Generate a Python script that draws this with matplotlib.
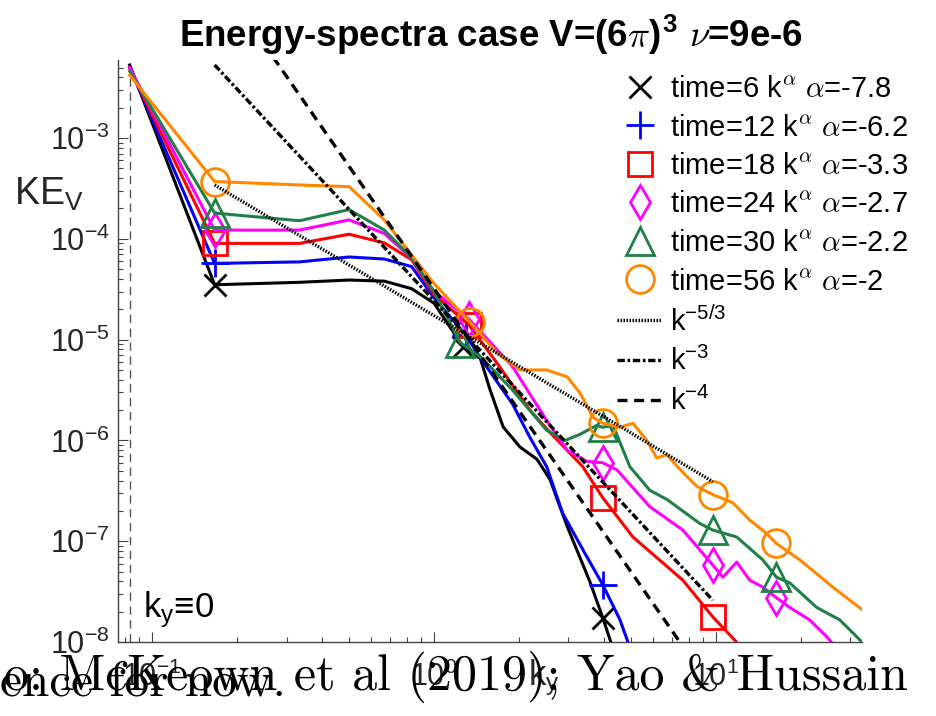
import matplotlib
matplotlib.use('Agg')
import matplotlib.pyplot as plt
from matplotlib.lines import Line2D

plt.rcParams['font.family'] = ['Liberation Sans', 'DejaVu Sans']
plt.rcParams['mathtext.fontset'] = 'cm'

# wavenumber / energy values
k_t6 = [0.0833, 0.1667, 0.3333, 0.5, 0.6667, 0.8333, 1.0, 1.27, 1.46, 1.58, 1.76, 2.02, 2.32, 2.58, 2.97, 3.57, 3.97, 4.3]
ke_t6 = [5.3e-3, 3.5e-5, 3.7e-5, 3.9e-5, 3.8e-5, 3.2e-5, 2.3e-5, 8.5e-6, 6.5e-6, 3.2e-6, 1.36e-6, 8.6e-7,
         6.5e-7, 4.1e-7, 1.4e-7, 4.0e-8, 1.74e-8, 8.9e-9]

k_t12 = [0.0833, 0.1667, 0.3333, 0.5, 0.6667, 0.8333, 1.0, 1.30, 1.46, 1.9, 2.19, 2.51, 2.86, 3.43, 3.97, 4.57, 4.95]
ke_t12 = [5.0e-3, 5.7e-5, 5.9e-5, 6.6e-5, 6.3e-5, 5.3e-5, 2.6e-5, 1.1e-5, 6.6e-6, 2.3e-6, 1.07e-6, 5.5e-7,
          1.9e-7, 7.6e-8, 3.7e-8, 1.66e-8, 8.9e-9]

k_t18 = [0.0833, 0.1667, 0.3333, 0.5, 0.6667, 0.8333, 1.0, 1.33, 1.67, 2.19, 2.58, 3.37, 3.97, 5.08, 7.64, 9.75, 12.5]
ke_t18 = [4.9e-3, 9.0e-5, 9.0e-5, 1.11e-4, 9.1e-5, 6.2e-5, 2.8e-5, 1.4e-5, 5.9e-6, 2.0e-6, 1.2e-6, 5.5e-7,
          2.7e-7, 1.1e-7, 4.1e-8, 1.78e-8, 8.5e-9]

k_t24 = [0.0833, 0.1667, 0.3333, 0.5, 0.6667, 0.8333, 1.0, 1.33, 1.9, 2.51, 2.97, 3.49, 3.97, 4.46, 5.83, 7.64,
         9.75, 10.6, 11.86, 13.2, 14.7, 16.4, 18.3, 21.5, 24.8, 27.0]
ke_t24 = [5.0e-3, 1.22e-4, 1.22e-4, 1.54e-4, 1.13e-4, 6.4e-5, 3.0e-5, 1.6e-5, 5.4e-6, 1.58e-6, 8.0e-7, 6.2e-7,
          6.0e-7, 5.1e-7, 2.2e-7, 1.29e-7, 5.8e-8, 4.4e-8, 6.2e-8, 4.1e-8, 3.5e-8, 2.75e-8, 2.2e-8, 1.66e-8,
          1.12e-8, 8.5e-9]

k_t30 = [0.0833, 0.1667, 0.3333, 0.5, 0.6667, 0.8333, 1.0, 1.24, 1.46, 1.9, 2.51, 2.92, 3.3, 3.78, 3.97, 4.32,
         4.95, 5.83, 6.70, 8.77, 9.75, 11.86, 14.7, 16.4, 18.3, 22.8, 27.5, 33.0]
ke_t30 = [4.6e-3, 1.8e-4, 1.51e-4, 1.95e-4, 1.22e-4, 6.5e-5, 3.0e-5, 9.3e-6, 6.8e-6, 3.16e-6, 1.26e-6, 1.0e-6,
          1.15e-6, 1.41e-6, 1.35e-6, 1.41e-6, 5.5e-7, 3.2e-7, 2.6e-7, 1.5e-7, 1.29e-7, 1.1e-7, 6.5e-8, 4.4e-8,
          3.85e-8, 2.2e-8, 1.66e-8, 1.0e-8]

k_t56 = [0.0833, 0.1667, 0.3333, 0.5, 0.6667, 0.8333, 1.0, 1.34, 1.67, 2.02, 2.51, 2.97, 3.30, 3.66, 3.97, 4.57,
         5.08, 5.69, 6.17, 6.70, 7.64, 8.57, 9.75, 11.5, 13.2, 15.1, 16.4, 19.9, 26.0, 33.0]
ke_t56 = [4.2e-3, 3.7e-4, 3.42e-4, 3.29e-4, 1.54e-4, 6.9e-5, 3.6e-5, 1.5e-5, 7.4e-6, 5.0e-6, 5.0e-6, 4.27e-6,
          2.95e-6, 1.7e-6, 1.48e-6, 1.35e-6, 1.48e-6, 1.0e-6, 6.7e-7, 7.2e-7, 4.8e-7, 3.5e-7, 2.9e-7, 2.4e-7,
          1.62e-7, 1.2e-7, 9.5e-8, 6.5e-8, 3.5e-8, 2.1e-8]

times = [6, 12, 18, 24, 30, 56]
alphas = ['-7.8', '-6.2', '-3.3', '-2.7', '-2.2', '-2']

# reference slopes (end points)
k_ref53 = [0.1667, 9.75]
ke_ref53 = [3.42e-4, 3.9e-7]
k_ref3 = [0.1667, 9.75]
ke_ref3 = [5.3e-3, 2.6e-8]
k_ref4 = [0.2685, 7.45]
ke_ref4 = [6.37e-3, 1.0e-8]

series = [
    (k_t6, ke_t6, 'black', 'x', 16, [1, 7, 16]),
    (k_t12, ke_t12, '#0000ff', '+', 20, [1, 7, 14]),
    (k_t18, ke_t18, '#ff0000', 's', 17, [1, 7, 12, 15]),
    (k_t24, ke_t24, '#ff00ff', 'd', 17, [1, 7, 12, 16, 21]),
    (k_t30, ke_t30, '#1f8048', '^', 20, [1, 7, 14, 20, 23]),
    (k_t56, ke_t56, '#ff8800', 'o', 20, [1, 7, 14, 22, 26]),
]

fig = plt.figure(figsize=(9.36, 7.16), dpi=100)
ax = fig.add_axes([118 / 936, 1 - 642 / 716, (862 - 118) / 936, (642 - 60) / 716])
ax.set_xscale('log')
ax.set_yscale('log')
ax.set_xlim(0.0757, 33.0)
ax.set_ylim(1e-8, 5.94e-3)

ax.axvline(k_t6[0], color='#555555', lw=1.0, ls=(0, (6, 4)))

handles = []
labels = []
for (k, ke, col, mk, ms, idx), t, a in zip(series, times, alphas):
    ax.plot(k, ke, color=col, lw=2.2, marker=mk, ms=ms, mew=2.0, mfc='none', markevery=idx)
    handles.append(Line2D([], [], ls='none', marker=mk, ms=ms, mew=2.0, mfc='none', color=col))
    labels.append('time=%d k$^{\\alpha}$ $\\alpha$=%s' % (t, a))

l53, = ax.plot(k_ref53, ke_ref53, color='black', lw=2.4, dashes=(0.45, 0.45))
l3, = ax.plot(k_ref3, ke_ref3, color='black', lw=2.4, dashes=(2.2, 0.8, 0.8, 0.8))
l4, = ax.plot(k_ref4, ke_ref4, color='black', lw=2.4, dashes=(3.0, 2.0))
handles += [l53, l3, l4]
labels += ['$\\mathdefault{k^{-5/3}}$', '$\\mathdefault{k^{-3}}$', '$\\mathdefault{k^{-4}}$']

ax.legend(handles, labels, loc='upper left', bbox_to_anchor=(617 / 936, 1 - 75 / 716),
          bbox_transform=fig.transFigure, frameon=False, fontsize=21, handlelength=1.55,
          handletextpad=0.27, labelspacing=0.36, borderpad=0, borderaxespad=0)

for s in ['top', 'right']:
    ax.spines[s].set_visible(False)
for s in ['left', 'bottom']:
    ax.spines[s].set_color('#444444')
    ax.spines[s].set_linewidth(1.0)
ax.tick_params(which='both', direction='in', colors='#444444', labelcolor='#262626', labelsize=22)
ax.tick_params(axis='y', which='both', pad=6)
ax.tick_params(axis='x', which='both', pad=14)
ax.tick_params(which='major', length=7, width=0.8)
ax.tick_params(which='minor', length=3.5, width=0.8)

fig.text(491 / 936, 1 - 35 / 716, 'Energy-spectra case V=(6$\\pi$)$^{\\mathdefault{3}}$ $\\nu$=9e-6',
         ha='center', va='center', fontsize=26.5, fontweight='bold')
fig.text(14 / 936, 1 - 205 / 716, '$\\mathdefault{KE_V}$', fontsize=27, color='#262626', va='baseline')
fig.text(528 / 936, 1 - 685 / 716, '$\\mathdefault{k_y}$', fontsize=25, color='#262626', va='baseline')
fig.text(143 / 936, 1 - 617 / 716, '$\\mathdefault{k_y}$\u22610', fontsize=25, va='baseline')

# stray slide text overlapping the bottom of the figure
fig.text(0, 1 - 695 / 716, 'ence for now.', family='cmr10', fontsize=35.5, va='baseline', zorder=10)
fig.text(4 / 936, 1 - 690 / 716, 'o: McKeown et al (2019); Yao & Hussain', family='cmr10', fontsize=36,
         va='baseline', zorder=10)

fig.savefig('out.png', dpi=100)
